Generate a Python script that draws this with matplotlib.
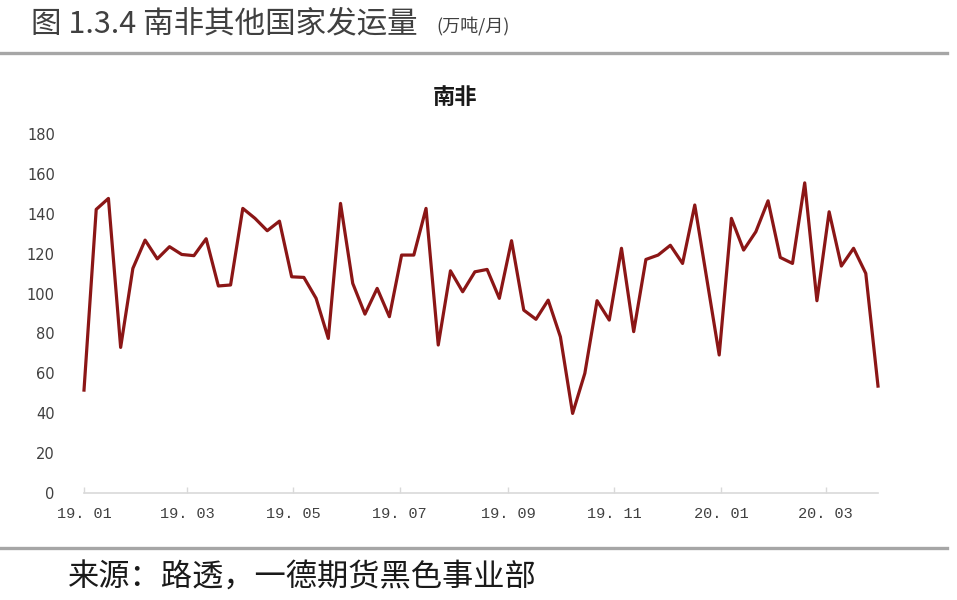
import matplotlib
matplotlib.use("Agg")
import matplotlib.pyplot as plt
import pandas as pd
from matplotlib.lines import Line2D

plt.rcParams['font.family'] = ['Noto Sans CJK SC', 'DejaVu Sans']

# ---- data ----
start_date = "2019-01-01"
values = [51.6, 142.2, 147.7, 73.0, 112.6, 126.8, 117.4, 123.5, 119.6, 119.0,
          127.5, 103.8, 104.3, 142.7, 137.7, 131.5, 136.3, 108.4, 108.1, 97.6,
          77.5, 145.2, 105.1, 89.7, 102.6, 88.4, 119.3, 119.3, 142.7, 74.2,
          111.4, 100.9, 110.9, 112.1, 97.6, 126.5, 91.7, 87.1, 96.7, 78.3,
          39.9, 60.0, 96.4, 86.7, 122.7, 80.9, 117.1, 119.3, 124.2, 115.1,
          144.4, 106.8, 69.2, 137.7, 121.8, 131.0, 146.5, 118.1, 115.1, 155.5,
          96.4, 141.0, 113.8, 122.7, 110.1, 53.6]
tick_dates = ["2019-01-01", "2019-03-01", "2019-05-01", "2019-07-01",
              "2019-09-01", "2019-11-01", "2020-01-01", "2020-03-01"]
tick_labels = ["19. 01", "19. 03", "19. 05", "19. 07", "19. 09", "19. 11", "20. 01", "20. 03"]
y_ticks = [0, 20, 40, 60, 80, 100, 120, 140, 160, 180]

dates = pd.date_range(start_date, periods=len(values), freq="7D")

W, H = 957, 600
fig = plt.figure(figsize=(W / 100, H / 100), dpi=100)
fig.patch.set_facecolor("white")

ax = fig.add_axes([84 / W, 1 - 493 / H, (878 - 84) / W, (493 - 134) / H])
ax.plot(dates, values, color="#8B1616", linewidth=2.3, clip_on=False)

ax.set_ylim(0, 180)
ax.set_xlim(dates[0], dates[-1])
ax.set_yticks(y_ticks)
ax.set_yticklabels([str(v) for v in y_ticks])
for lab in ax.get_yticklabels():
    lab.set_fontfamily(["DejaVu Sans"])
    lab.set_fontsize(10.5)
    lab.set_color("#404040")
ax.set_xticks(pd.to_datetime(tick_dates))
ax.set_xticklabels(tick_labels)
for lab in ax.get_xticklabels():
    lab.set_fontfamily(["Liberation Mono"])
    lab.set_fontsize(11)
    lab.set_color("#404040")
for s in ["top", "right", "left"]:
    ax.spines[s].set_visible(False)
ax.spines["bottom"].set_color("#d9d9d9")
ax.spines["bottom"].set_linewidth(1.2)
ax.tick_params(axis="y", length=0, pad=21)
ax.tick_params(axis="x", direction="in", length=4, color="#d9d9d9",
               width=1.0, pad=10)

# titles
fig.text(31 / W, 1 - 24 / H, "图 1.3.4 南非其他国家发运量", fontsize=22,
         color="#404040", ha="left", va="center")
fig.text(436 / W, 1 - 27 / H, "(万吨/月)", fontsize=13, color="#404040",
         ha="left", va="center")
fig.text(455 / W, 1 - 97 / H, "南非", fontsize=16, fontweight="bold",
         color="#1a1a1a", ha="center", va="center")
fig.text(68 / W, 1 - 578 / H, "来源：路透，一德期货黑色事业部", fontsize=22.5,
         color="#1a1a1a", ha="left", va="center")

# separator lines
fig.add_artist(Line2D([0, 947 / W], [1 - 53 / H, 1 - 53 / H],
                      color="#a6a6a6", linewidth=2.4, transform=fig.transFigure))
fig.add_artist(Line2D([0, 947 / W], [1 - 548 / H, 1 - 548 / H],
                      color="#a6a6a6", linewidth=2.4, transform=fig.transFigure))

fig.savefig("out.png", dpi=100, facecolor="white")
